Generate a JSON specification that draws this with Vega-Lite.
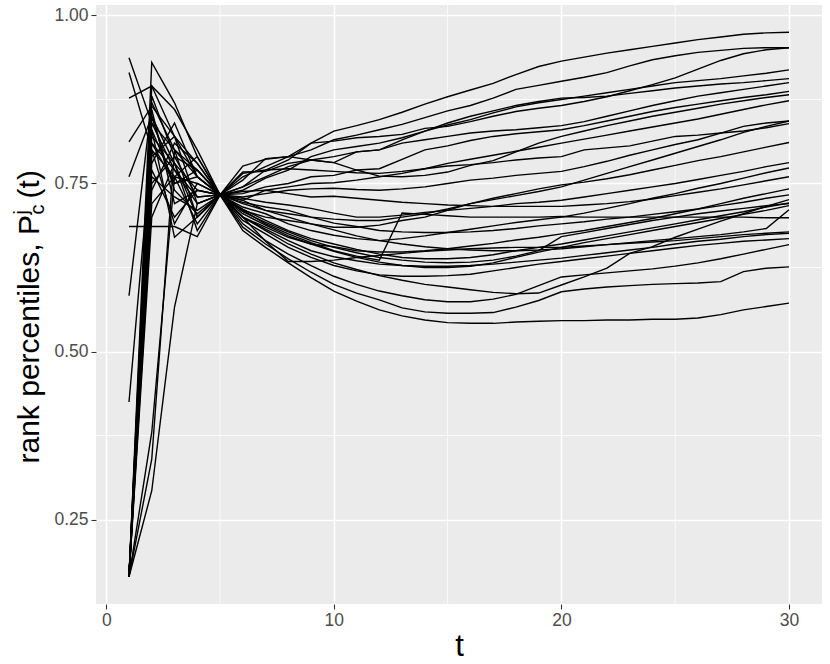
{
"$schema": "https://vega.github.io/schema/vega-lite/v6.json",
"width": 726, "height": 599,
"autosize": {"type": "none"},
"padding": {"left": 96, "top": 5, "right": 8, "bottom": 60},
"background": "white",
"config": {"view": {"fill": "#EBEBEB", "stroke": null}, "font": "Liberation Sans"},
"datasets": {
"minx": [{"gx": 5}, {"gx": 15}, {"gx": 25}],
"miny": [{"gy": 0.375}, {"gy": 0.625}, {"gy": 0.875}],
"pts": [
{"s":1,"t":1,"v":0.165},{"s":1,"t":2,"v":0.93},{"s":1,"t":3,"v":0.87},{"s":1,"t":4,"v":0.79},{"s":1,"t":5,"v":0.733},{"s":1,"t":6,"v":0.776},{"s":1,"t":7,"v":0.786},{"s":1,"t":8,"v":0.79},{"s":1,"t":9,"v":0.81},{"s":1,"t":10,"v":0.828},{"s":1,"t":11,"v":0.836},{"s":1,"t":12,"v":0.845},{"s":1,"t":13,"v":0.856},{"s":1,"t":14,"v":0.868},{"s":1,"t":15,"v":0.879},{"s":1,"t":16,"v":0.889},{"s":1,"t":17,"v":0.899},{"s":1,"t":18,"v":0.912},{"s":1,"t":19,"v":0.924},{"s":1,"t":20,"v":0.932},{"s":1,"t":21,"v":0.938},{"s":1,"t":22,"v":0.944},{"s":1,"t":23,"v":0.949},{"s":1,"t":24,"v":0.954},{"s":1,"t":25,"v":0.959},{"s":1,"t":26,"v":0.964},{"s":1,"t":27,"v":0.968},{"s":1,"t":28,"v":0.972},{"s":1,"t":29,"v":0.974},{"s":1,"t":30,"v":0.975},
{"s":2,"t":1,"v":0.165},{"s":2,"t":2,"v":0.895},{"s":2,"t":3,"v":0.86},{"s":2,"t":4,"v":0.80},{"s":2,"t":5,"v":0.733},{"s":2,"t":6,"v":0.76},{"s":2,"t":7,"v":0.775},{"s":2,"t":8,"v":0.79},{"s":2,"t":9,"v":0.80},{"s":2,"t":10,"v":0.815},{"s":2,"t":11,"v":0.822},{"s":2,"t":12,"v":0.83},{"s":2,"t":13,"v":0.838},{"s":2,"t":14,"v":0.848},{"s":2,"t":15,"v":0.858},{"s":2,"t":16,"v":0.866},{"s":2,"t":17,"v":0.877},{"s":2,"t":18,"v":0.89},{"s":2,"t":19,"v":0.896},{"s":2,"t":20,"v":0.902},{"s":2,"t":21,"v":0.908},{"s":2,"t":22,"v":0.915},{"s":2,"t":23,"v":0.925},{"s":2,"t":24,"v":0.934},{"s":2,"t":25,"v":0.94},{"s":2,"t":26,"v":0.945},{"s":2,"t":27,"v":0.948},{"s":2,"t":28,"v":0.951},{"s":2,"t":29,"v":0.952},{"s":2,"t":30,"v":0.952},
{"s":3,"t":1,"v":0.937},{"s":3,"t":2,"v":0.84},{"s":3,"t":3,"v":0.80},{"s":3,"t":4,"v":0.77},{"s":3,"t":5,"v":0.733},{"s":3,"t":6,"v":0.745},{"s":3,"t":7,"v":0.77},{"s":3,"t":8,"v":0.785},{"s":3,"t":9,"v":0.81},{"s":3,"t":10,"v":0.813},{"s":3,"t":11,"v":0.818},{"s":3,"t":12,"v":0.82},{"s":3,"t":13,"v":0.823},{"s":3,"t":14,"v":0.832},{"s":3,"t":15,"v":0.835},{"s":3,"t":16,"v":0.842},{"s":3,"t":17,"v":0.85},{"s":3,"t":18,"v":0.857},{"s":3,"t":19,"v":0.862},{"s":3,"t":20,"v":0.866},{"s":3,"t":21,"v":0.872},{"s":3,"t":22,"v":0.879},{"s":3,"t":23,"v":0.888},{"s":3,"t":24,"v":0.897},{"s":3,"t":25,"v":0.907},{"s":3,"t":26,"v":0.92},{"s":3,"t":27,"v":0.933},{"s":3,"t":28,"v":0.943},{"s":3,"t":29,"v":0.949},{"s":3,"t":30,"v":0.952},
{"s":4,"t":1,"v":0.915},{"s":4,"t":2,"v":0.80},{"s":4,"t":3,"v":0.76},{"s":4,"t":4,"v":0.75},{"s":4,"t":5,"v":0.733},{"s":4,"t":6,"v":0.74},{"s":4,"t":7,"v":0.758},{"s":4,"t":8,"v":0.77},{"s":4,"t":9,"v":0.79},{"s":4,"t":10,"v":0.80},{"s":4,"t":11,"v":0.805},{"s":4,"t":12,"v":0.81},{"s":4,"t":13,"v":0.818},{"s":4,"t":14,"v":0.828},{"s":4,"t":15,"v":0.837},{"s":4,"t":16,"v":0.845},{"s":4,"t":17,"v":0.855},{"s":4,"t":18,"v":0.864},{"s":4,"t":19,"v":0.87},{"s":4,"t":20,"v":0.875},{"s":4,"t":21,"v":0.88},{"s":4,"t":22,"v":0.885},{"s":4,"t":23,"v":0.89},{"s":4,"t":24,"v":0.895},{"s":4,"t":25,"v":0.90},{"s":4,"t":26,"v":0.903},{"s":4,"t":27,"v":0.906},{"s":4,"t":28,"v":0.91},{"s":4,"t":29,"v":0.914},{"s":4,"t":30,"v":0.919},
{"s":5,"t":1,"v":0.877},{"s":5,"t":2,"v":0.895},{"s":5,"t":3,"v":0.82},{"s":5,"t":4,"v":0.78},{"s":5,"t":5,"v":0.733},{"s":5,"t":6,"v":0.767},{"s":5,"t":7,"v":0.768},{"s":5,"t":8,"v":0.78},{"s":5,"t":9,"v":0.785},{"s":5,"t":10,"v":0.79},{"s":5,"t":11,"v":0.797},{"s":5,"t":12,"v":0.80},{"s":5,"t":13,"v":0.815},{"s":5,"t":14,"v":0.828},{"s":5,"t":15,"v":0.84},{"s":5,"t":16,"v":0.85},{"s":5,"t":17,"v":0.858},{"s":5,"t":18,"v":0.866},{"s":5,"t":19,"v":0.872},{"s":5,"t":20,"v":0.877},{"s":5,"t":21,"v":0.878},{"s":5,"t":22,"v":0.88},{"s":5,"t":23,"v":0.884},{"s":5,"t":24,"v":0.888},{"s":5,"t":25,"v":0.892},{"s":5,"t":26,"v":0.895},{"s":5,"t":27,"v":0.898},{"s":5,"t":28,"v":0.90},{"s":5,"t":29,"v":0.903},{"s":5,"t":30,"v":0.906},
{"s":6,"t":1,"v":0.812},{"s":6,"t":2,"v":0.865},{"s":6,"t":3,"v":0.82},{"s":6,"t":4,"v":0.76},{"s":6,"t":5,"v":0.733},{"s":6,"t":6,"v":0.745},{"s":6,"t":7,"v":0.76},{"s":6,"t":8,"v":0.775},{"s":6,"t":9,"v":0.785},{"s":6,"t":10,"v":0.781},{"s":6,"t":11,"v":0.797},{"s":6,"t":12,"v":0.80},{"s":6,"t":13,"v":0.81},{"s":6,"t":14,"v":0.815},{"s":6,"t":15,"v":0.82},{"s":6,"t":16,"v":0.825},{"s":6,"t":17,"v":0.828},{"s":6,"t":18,"v":0.83},{"s":6,"t":19,"v":0.833},{"s":6,"t":20,"v":0.836},{"s":6,"t":21,"v":0.842},{"s":6,"t":22,"v":0.85},{"s":6,"t":23,"v":0.858},{"s":6,"t":24,"v":0.866},{"s":6,"t":25,"v":0.873},{"s":6,"t":26,"v":0.88},{"s":6,"t":27,"v":0.885},{"s":6,"t":28,"v":0.89},{"s":6,"t":29,"v":0.895},{"s":6,"t":30,"v":0.90},
{"s":7,"t":1,"v":0.76},{"s":7,"t":2,"v":0.85},{"s":7,"t":3,"v":0.78},{"s":7,"t":4,"v":0.70},{"s":7,"t":5,"v":0.733},{"s":7,"t":6,"v":0.735},{"s":7,"t":7,"v":0.745},{"s":7,"t":8,"v":0.75},{"s":7,"t":9,"v":0.76},{"s":7,"t":10,"v":0.762},{"s":7,"t":11,"v":0.77},{"s":7,"t":12,"v":0.772},{"s":7,"t":13,"v":0.786},{"s":7,"t":14,"v":0.80},{"s":7,"t":15,"v":0.806},{"s":7,"t":16,"v":0.814},{"s":7,"t":17,"v":0.82},{"s":7,"t":18,"v":0.824},{"s":7,"t":19,"v":0.827},{"s":7,"t":20,"v":0.83},{"s":7,"t":21,"v":0.836},{"s":7,"t":22,"v":0.843},{"s":7,"t":23,"v":0.85},{"s":7,"t":24,"v":0.857},{"s":7,"t":25,"v":0.863},{"s":7,"t":26,"v":0.868},{"s":7,"t":27,"v":0.873},{"s":7,"t":28,"v":0.878},{"s":7,"t":29,"v":0.882},{"s":7,"t":30,"v":0.887},
{"s":8,"t":1,"v":0.686},{"s":8,"t":2,"v":0.686},{"s":8,"t":3,"v":0.686},{"s":8,"t":4,"v":0.671},{"s":8,"t":5,"v":0.733},{"s":8,"t":6,"v":0.755},{"s":8,"t":7,"v":0.787},{"s":8,"t":8,"v":0.79},{"s":8,"t":9,"v":0.785},{"s":8,"t":10,"v":0.781},{"s":8,"t":11,"v":0.77},{"s":8,"t":12,"v":0.761},{"s":8,"t":13,"v":0.76},{"s":8,"t":14,"v":0.762},{"s":8,"t":15,"v":0.767},{"s":8,"t":16,"v":0.777},{"s":8,"t":17,"v":0.784},{"s":8,"t":18,"v":0.797},{"s":8,"t":19,"v":0.81},{"s":8,"t":20,"v":0.82},{"s":8,"t":21,"v":0.828},{"s":8,"t":22,"v":0.836},{"s":8,"t":23,"v":0.843},{"s":8,"t":24,"v":0.85},{"s":8,"t":25,"v":0.856},{"s":8,"t":26,"v":0.862},{"s":8,"t":27,"v":0.868},{"s":8,"t":28,"v":0.873},{"s":8,"t":29,"v":0.878},{"s":8,"t":30,"v":0.882},
{"s":9,"t":1,"v":0.583},{"s":9,"t":2,"v":0.87},{"s":9,"t":3,"v":0.80},{"s":9,"t":4,"v":0.76},{"s":9,"t":5,"v":0.733},{"s":9,"t":6,"v":0.725},{"s":9,"t":7,"v":0.74},{"s":9,"t":8,"v":0.745},{"s":9,"t":9,"v":0.75},{"s":9,"t":10,"v":0.751},{"s":9,"t":11,"v":0.755},{"s":9,"t":12,"v":0.76},{"s":9,"t":13,"v":0.765},{"s":9,"t":14,"v":0.772},{"s":9,"t":15,"v":0.78},{"s":9,"t":16,"v":0.786},{"s":9,"t":17,"v":0.792},{"s":9,"t":18,"v":0.798},{"s":9,"t":19,"v":0.804},{"s":9,"t":20,"v":0.81},{"s":9,"t":21,"v":0.816},{"s":9,"t":22,"v":0.822},{"s":9,"t":23,"v":0.828},{"s":9,"t":24,"v":0.834},{"s":9,"t":25,"v":0.84},{"s":9,"t":26,"v":0.846},{"s":9,"t":27,"v":0.853},{"s":9,"t":28,"v":0.86},{"s":9,"t":29,"v":0.867},{"s":9,"t":30,"v":0.873},
{"s":10,"t":1,"v":0.425},{"s":10,"t":2,"v":0.81},{"s":10,"t":3,"v":0.77},{"s":10,"t":4,"v":0.72},{"s":10,"t":5,"v":0.733},{"s":10,"t":6,"v":0.73},{"s":10,"t":7,"v":0.735},{"s":10,"t":8,"v":0.74},{"s":10,"t":9,"v":0.742},{"s":10,"t":10,"v":0.743},{"s":10,"t":11,"v":0.741},{"s":10,"t":12,"v":0.74},{"s":10,"t":13,"v":0.742},{"s":10,"t":14,"v":0.745},{"s":10,"t":15,"v":0.75},{"s":10,"t":16,"v":0.755},{"s":10,"t":17,"v":0.758},{"s":10,"t":18,"v":0.762},{"s":10,"t":19,"v":0.765},{"s":10,"t":20,"v":0.768},{"s":10,"t":21,"v":0.775},{"s":10,"t":22,"v":0.783},{"s":10,"t":23,"v":0.792},{"s":10,"t":24,"v":0.80},{"s":10,"t":25,"v":0.808},{"s":10,"t":26,"v":0.815},{"s":10,"t":27,"v":0.825},{"s":10,"t":28,"v":0.835},{"s":10,"t":29,"v":0.84},{"s":10,"t":30,"v":0.843},
{"s":11,"t":1,"v":0.165},{"s":11,"t":2,"v":0.293},{"s":11,"t":3,"v":0.566},{"s":11,"t":4,"v":0.72},{"s":11,"t":5,"v":0.733},{"s":11,"t":6,"v":0.72},{"s":11,"t":7,"v":0.71},{"s":11,"t":8,"v":0.705},{"s":11,"t":9,"v":0.70},{"s":11,"t":10,"v":0.697},{"s":11,"t":11,"v":0.695},{"s":11,"t":12,"v":0.695},{"s":11,"t":13,"v":0.70},{"s":11,"t":14,"v":0.705},{"s":11,"t":15,"v":0.712},{"s":11,"t":16,"v":0.72},{"s":11,"t":17,"v":0.726},{"s":11,"t":18,"v":0.732},{"s":11,"t":19,"v":0.738},{"s":11,"t":20,"v":0.745},{"s":11,"t":21,"v":0.755},{"s":11,"t":22,"v":0.765},{"s":11,"t":23,"v":0.775},{"s":11,"t":24,"v":0.785},{"s":11,"t":25,"v":0.795},{"s":11,"t":26,"v":0.805},{"s":11,"t":27,"v":0.815},{"s":11,"t":28,"v":0.826},{"s":11,"t":29,"v":0.835},{"s":11,"t":30,"v":0.843},
{"s":12,"t":1,"v":0.165},{"s":12,"t":2,"v":0.38},{"s":12,"t":3,"v":0.76},{"s":12,"t":4,"v":0.79},{"s":12,"t":5,"v":0.733},{"s":12,"t":6,"v":0.765},{"s":12,"t":7,"v":0.77},{"s":12,"t":8,"v":0.772},{"s":12,"t":9,"v":0.77},{"s":12,"t":10,"v":0.768},{"s":12,"t":11,"v":0.766},{"s":12,"t":12,"v":0.765},{"s":12,"t":13,"v":0.768},{"s":12,"t":14,"v":0.772},{"s":12,"t":15,"v":0.776},{"s":12,"t":16,"v":0.778},{"s":12,"t":17,"v":0.781},{"s":12,"t":18,"v":0.785},{"s":12,"t":19,"v":0.788},{"s":12,"t":20,"v":0.79},{"s":12,"t":21,"v":0.80},{"s":12,"t":22,"v":0.803},{"s":12,"t":23,"v":0.806},{"s":12,"t":24,"v":0.813},{"s":12,"t":25,"v":0.82},{"s":12,"t":26,"v":0.822},{"s":12,"t":27,"v":0.825},{"s":12,"t":28,"v":0.828},{"s":12,"t":29,"v":0.833},{"s":12,"t":30,"v":0.839},
{"s":13,"t":1,"v":0.165},{"s":13,"t":2,"v":0.34},{"s":13,"t":3,"v":0.80},{"s":13,"t":4,"v":0.70},{"s":13,"t":5,"v":0.733},{"s":13,"t":6,"v":0.71},{"s":13,"t":7,"v":0.70},{"s":13,"t":8,"v":0.695},{"s":13,"t":9,"v":0.69},{"s":13,"t":10,"v":0.685},{"s":13,"t":11,"v":0.685},{"s":13,"t":12,"v":0.688},{"s":13,"t":13,"v":0.695},{"s":13,"t":14,"v":0.70},{"s":13,"t":15,"v":0.71},{"s":13,"t":16,"v":0.72},{"s":13,"t":17,"v":0.728},{"s":13,"t":18,"v":0.735},{"s":13,"t":19,"v":0.742},{"s":13,"t":20,"v":0.748},{"s":13,"t":21,"v":0.752},{"s":13,"t":22,"v":0.757},{"s":13,"t":23,"v":0.763},{"s":13,"t":24,"v":0.77},{"s":13,"t":25,"v":0.777},{"s":13,"t":26,"v":0.784},{"s":13,"t":27,"v":0.79},{"s":13,"t":28,"v":0.797},{"s":13,"t":29,"v":0.804},{"s":13,"t":30,"v":0.811},
{"s":14,"t":1,"v":0.165},{"s":14,"t":2,"v":0.83},{"s":14,"t":3,"v":0.75},{"s":14,"t":4,"v":0.77},{"s":14,"t":5,"v":0.733},{"s":14,"t":6,"v":0.728},{"s":14,"t":7,"v":0.722},{"s":14,"t":8,"v":0.718},{"s":14,"t":9,"v":0.713},{"s":14,"t":10,"v":0.706},{"s":14,"t":11,"v":0.70},{"s":14,"t":12,"v":0.70},{"s":14,"t":13,"v":0.703},{"s":14,"t":14,"v":0.707},{"s":14,"t":15,"v":0.71},{"s":14,"t":16,"v":0.713},{"s":14,"t":17,"v":0.716},{"s":14,"t":18,"v":0.72},{"s":14,"t":19,"v":0.722},{"s":14,"t":20,"v":0.725},{"s":14,"t":21,"v":0.73},{"s":14,"t":22,"v":0.735},{"s":14,"t":23,"v":0.74},{"s":14,"t":24,"v":0.745},{"s":14,"t":25,"v":0.75},{"s":14,"t":26,"v":0.756},{"s":14,"t":27,"v":0.762},{"s":14,"t":28,"v":0.768},{"s":14,"t":29,"v":0.775},{"s":14,"t":30,"v":0.781},
{"s":15,"t":1,"v":0.165},{"s":15,"t":2,"v":0.82},{"s":15,"t":3,"v":0.78},{"s":15,"t":4,"v":0.68},{"s":15,"t":5,"v":0.733},{"s":15,"t":6,"v":0.715},{"s":15,"t":7,"v":0.705},{"s":15,"t":8,"v":0.69},{"s":15,"t":9,"v":0.68},{"s":15,"t":10,"v":0.673},{"s":15,"t":11,"v":0.668},{"s":15,"t":12,"v":0.665},{"s":15,"t":13,"v":0.668},{"s":15,"t":14,"v":0.672},{"s":15,"t":15,"v":0.677},{"s":15,"t":16,"v":0.682},{"s":15,"t":17,"v":0.687},{"s":15,"t":18,"v":0.692},{"s":15,"t":19,"v":0.696},{"s":15,"t":20,"v":0.70},{"s":15,"t":21,"v":0.706},{"s":15,"t":22,"v":0.713},{"s":15,"t":23,"v":0.72},{"s":15,"t":24,"v":0.728},{"s":15,"t":25,"v":0.735},{"s":15,"t":26,"v":0.743},{"s":15,"t":27,"v":0.75},{"s":15,"t":28,"v":0.758},{"s":15,"t":29,"v":0.766},{"s":15,"t":30,"v":0.773},
{"s":16,"t":1,"v":0.165},{"s":16,"t":2,"v":0.86},{"s":16,"t":3,"v":0.72},{"s":16,"t":4,"v":0.74},{"s":16,"t":5,"v":0.733},{"s":16,"t":6,"v":0.738},{"s":16,"t":7,"v":0.74},{"s":16,"t":8,"v":0.735},{"s":16,"t":9,"v":0.73},{"s":16,"t":10,"v":0.731},{"s":16,"t":11,"v":0.728},{"s":16,"t":12,"v":0.725},{"s":16,"t":13,"v":0.722},{"s":16,"t":14,"v":0.72},{"s":16,"t":15,"v":0.718},{"s":16,"t":16,"v":0.717},{"s":16,"t":17,"v":0.716},{"s":16,"t":18,"v":0.716},{"s":16,"t":19,"v":0.716},{"s":16,"t":20,"v":0.716},{"s":16,"t":21,"v":0.718},{"s":16,"t":22,"v":0.72},{"s":16,"t":23,"v":0.723},{"s":16,"t":24,"v":0.727},{"s":16,"t":25,"v":0.732},{"s":16,"t":26,"v":0.737},{"s":16,"t":27,"v":0.742},{"s":16,"t":28,"v":0.748},{"s":16,"t":29,"v":0.754},{"s":16,"t":30,"v":0.76},
{"s":17,"t":1,"v":0.165},{"s":17,"t":2,"v":0.78},{"s":17,"t":3,"v":0.84},{"s":17,"t":4,"v":0.76},{"s":17,"t":5,"v":0.733},{"s":17,"t":6,"v":0.70},{"s":17,"t":7,"v":0.685},{"s":17,"t":8,"v":0.67},{"s":17,"t":9,"v":0.66},{"s":17,"t":10,"v":0.656},{"s":17,"t":11,"v":0.65},{"s":17,"t":12,"v":0.648},{"s":17,"t":13,"v":0.648},{"s":17,"t":14,"v":0.65},{"s":17,"t":15,"v":0.653},{"s":17,"t":16,"v":0.657},{"s":17,"t":17,"v":0.661},{"s":17,"t":18,"v":0.666},{"s":17,"t":19,"v":0.67},{"s":17,"t":20,"v":0.675},{"s":17,"t":21,"v":0.68},{"s":17,"t":22,"v":0.686},{"s":17,"t":23,"v":0.692},{"s":17,"t":24,"v":0.698},{"s":17,"t":25,"v":0.705},{"s":17,"t":26,"v":0.712},{"s":17,"t":27,"v":0.72},{"s":17,"t":28,"v":0.728},{"s":17,"t":29,"v":0.735},{"s":17,"t":30,"v":0.742},
{"s":18,"t":1,"v":0.165},{"s":18,"t":2,"v":0.76},{"s":18,"t":3,"v":0.73},{"s":18,"t":4,"v":0.71},{"s":18,"t":5,"v":0.733},{"s":18,"t":6,"v":0.722},{"s":18,"t":7,"v":0.715},{"s":18,"t":8,"v":0.71},{"s":18,"t":9,"v":0.70},{"s":18,"t":10,"v":0.691},{"s":18,"t":11,"v":0.686},{"s":18,"t":12,"v":0.68},{"s":18,"t":13,"v":0.678},{"s":18,"t":14,"v":0.677},{"s":18,"t":15,"v":0.677},{"s":18,"t":16,"v":0.678},{"s":18,"t":17,"v":0.68},{"s":18,"t":18,"v":0.683},{"s":18,"t":19,"v":0.687},{"s":18,"t":20,"v":0.69},{"s":18,"t":21,"v":0.693},{"s":18,"t":22,"v":0.697},{"s":18,"t":23,"v":0.70},{"s":18,"t":24,"v":0.704},{"s":18,"t":25,"v":0.708},{"s":18,"t":26,"v":0.712},{"s":18,"t":27,"v":0.717},{"s":18,"t":28,"v":0.722},{"s":18,"t":29,"v":0.728},{"s":18,"t":30,"v":0.733},
{"s":19,"t":1,"v":0.165},{"s":19,"t":2,"v":0.74},{"s":19,"t":3,"v":0.81},{"s":19,"t":4,"v":0.78},{"s":19,"t":5,"v":0.733},{"s":19,"t":6,"v":0.70},{"s":19,"t":7,"v":0.68},{"s":19,"t":8,"v":0.66},{"s":19,"t":9,"v":0.645},{"s":19,"t":10,"v":0.632},{"s":19,"t":11,"v":0.622},{"s":19,"t":12,"v":0.613},{"s":19,"t":13,"v":0.606},{"s":19,"t":14,"v":0.60},{"s":19,"t":15,"v":0.596},{"s":19,"t":16,"v":0.592},{"s":19,"t":17,"v":0.588},{"s":19,"t":18,"v":0.586},{"s":19,"t":19,"v":0.587},{"s":19,"t":20,"v":0.599},{"s":19,"t":21,"v":0.611},{"s":19,"t":22,"v":0.624},{"s":19,"t":23,"v":0.646},{"s":19,"t":24,"v":0.656},{"s":19,"t":25,"v":0.67},{"s":19,"t":26,"v":0.682},{"s":19,"t":27,"v":0.694},{"s":19,"t":28,"v":0.705},{"s":19,"t":29,"v":0.716},{"s":19,"t":30,"v":0.726},
{"s":20,"t":1,"v":0.165},{"s":20,"t":2,"v":0.88},{"s":20,"t":3,"v":0.79},{"s":20,"t":4,"v":0.73},{"s":20,"t":5,"v":0.733},{"s":20,"t":6,"v":0.712},{"s":20,"t":7,"v":0.695},{"s":20,"t":8,"v":0.68},{"s":20,"t":9,"v":0.668},{"s":20,"t":10,"v":0.66},{"s":20,"t":11,"v":0.652},{"s":20,"t":12,"v":0.645},{"s":20,"t":13,"v":0.64},{"s":20,"t":14,"v":0.638},{"s":20,"t":15,"v":0.638},{"s":20,"t":16,"v":0.64},{"s":20,"t":17,"v":0.644},{"s":20,"t":18,"v":0.65},{"s":20,"t":19,"v":0.655},{"s":20,"t":20,"v":0.66},{"s":20,"t":21,"v":0.666},{"s":20,"t":22,"v":0.672},{"s":20,"t":23,"v":0.678},{"s":20,"t":24,"v":0.684},{"s":20,"t":25,"v":0.69},{"s":20,"t":26,"v":0.696},{"s":20,"t":27,"v":0.702},{"s":20,"t":28,"v":0.708},{"s":20,"t":29,"v":0.715},{"s":20,"t":30,"v":0.721},
{"s":21,"t":1,"v":0.165},{"s":21,"t":2,"v":0.72},{"s":21,"t":3,"v":0.76},{"s":21,"t":4,"v":0.69},{"s":21,"t":5,"v":0.733},{"s":21,"t":6,"v":0.71},{"s":21,"t":7,"v":0.69},{"s":21,"t":8,"v":0.675},{"s":21,"t":9,"v":0.662},{"s":21,"t":10,"v":0.65},{"s":21,"t":11,"v":0.642},{"s":21,"t":12,"v":0.636},{"s":21,"t":13,"v":0.706},{"s":21,"t":14,"v":0.704},{"s":21,"t":15,"v":0.702},{"s":21,"t":16,"v":0.70},{"s":21,"t":17,"v":0.70},{"s":21,"t":18,"v":0.70},{"s":21,"t":19,"v":0.70},{"s":21,"t":20,"v":0.701},{"s":21,"t":21,"v":0.70},{"s":21,"t":22,"v":0.70},{"s":21,"t":23,"v":0.70},{"s":21,"t":24,"v":0.70},{"s":21,"t":25,"v":0.70},{"s":21,"t":26,"v":0.70},{"s":21,"t":27,"v":0.70},{"s":21,"t":28,"v":0.70},{"s":21,"t":29,"v":0.699},{"s":21,"t":30,"v":0.699},
{"s":22,"t":1,"v":0.165},{"s":22,"t":2,"v":0.84},{"s":22,"t":3,"v":0.77},{"s":22,"t":4,"v":0.73},{"s":22,"t":5,"v":0.733},{"s":22,"t":6,"v":0.705},{"s":22,"t":7,"v":0.688},{"s":22,"t":8,"v":0.672},{"s":22,"t":9,"v":0.66},{"s":22,"t":10,"v":0.649},{"s":22,"t":11,"v":0.64},{"s":22,"t":12,"v":0.633},{"s":22,"t":13,"v":0.628},{"s":22,"t":14,"v":0.625},{"s":22,"t":15,"v":0.625},{"s":22,"t":16,"v":0.627},{"s":22,"t":17,"v":0.632},{"s":22,"t":18,"v":0.64},{"s":22,"t":19,"v":0.648},{"s":22,"t":20,"v":0.655},{"s":22,"t":21,"v":0.662},{"s":22,"t":22,"v":0.668},{"s":22,"t":23,"v":0.674},{"s":22,"t":24,"v":0.68},{"s":22,"t":25,"v":0.686},{"s":22,"t":26,"v":0.692},{"s":22,"t":27,"v":0.698},{"s":22,"t":28,"v":0.704},{"s":22,"t":29,"v":0.71},{"s":22,"t":30,"v":0.717},
{"s":23,"t":1,"v":0.165},{"s":23,"t":2,"v":0.80},{"s":23,"t":3,"v":0.69},{"s":23,"t":4,"v":0.75},{"s":23,"t":5,"v":0.733},{"s":23,"t":6,"v":0.725},{"s":23,"t":7,"v":0.71},{"s":23,"t":8,"v":0.70},{"s":23,"t":9,"v":0.69},{"s":23,"t":10,"v":0.681},{"s":23,"t":11,"v":0.672},{"s":23,"t":12,"v":0.665},{"s":23,"t":13,"v":0.66},{"s":23,"t":14,"v":0.656},{"s":23,"t":15,"v":0.653},{"s":23,"t":16,"v":0.651},{"s":23,"t":17,"v":0.65},{"s":23,"t":18,"v":0.65},{"s":23,"t":19,"v":0.651},{"s":23,"t":20,"v":0.653},{"s":23,"t":21,"v":0.656},{"s":23,"t":22,"v":0.659},{"s":23,"t":23,"v":0.662},{"s":23,"t":24,"v":0.665},{"s":23,"t":25,"v":0.668},{"s":23,"t":26,"v":0.671},{"s":23,"t":27,"v":0.674},{"s":23,"t":28,"v":0.678},{"s":23,"t":29,"v":0.683},{"s":23,"t":30,"v":0.711},
{"s":24,"t":1,"v":0.165},{"s":24,"t":2,"v":0.79},{"s":24,"t":3,"v":0.82},{"s":24,"t":4,"v":0.72},{"s":24,"t":5,"v":0.733},{"s":24,"t":6,"v":0.70},{"s":24,"t":7,"v":0.664},{"s":24,"t":8,"v":0.634},{"s":24,"t":9,"v":0.634},{"s":24,"t":10,"v":0.636},{"s":24,"t":11,"v":0.64},{"s":24,"t":12,"v":0.643},{"s":24,"t":13,"v":0.646},{"s":24,"t":14,"v":0.649},{"s":24,"t":15,"v":0.651},{"s":24,"t":16,"v":0.653},{"s":24,"t":17,"v":0.654},{"s":24,"t":18,"v":0.655},{"s":24,"t":19,"v":0.655},{"s":24,"t":20,"v":0.655},{"s":24,"t":21,"v":0.657},{"s":24,"t":22,"v":0.659},{"s":24,"t":23,"v":0.661},{"s":24,"t":24,"v":0.663},{"s":24,"t":25,"v":0.665},{"s":24,"t":26,"v":0.668},{"s":24,"t":27,"v":0.671},{"s":24,"t":28,"v":0.674},{"s":24,"t":29,"v":0.676},{"s":24,"t":30,"v":0.678},
{"s":25,"t":1,"v":0.165},{"s":25,"t":2,"v":0.77},{"s":25,"t":3,"v":0.70},{"s":25,"t":4,"v":0.74},{"s":25,"t":5,"v":0.733},{"s":25,"t":6,"v":0.70},{"s":25,"t":7,"v":0.682},{"s":25,"t":8,"v":0.665},{"s":25,"t":9,"v":0.65},{"s":25,"t":10,"v":0.641},{"s":25,"t":11,"v":0.635},{"s":25,"t":12,"v":0.63},{"s":25,"t":13,"v":0.628},{"s":25,"t":14,"v":0.627},{"s":25,"t":15,"v":0.627},{"s":25,"t":16,"v":0.628},{"s":25,"t":17,"v":0.63},{"s":25,"t":18,"v":0.633},{"s":25,"t":19,"v":0.636},{"s":25,"t":20,"v":0.639},{"s":25,"t":21,"v":0.643},{"s":25,"t":22,"v":0.647},{"s":25,"t":23,"v":0.651},{"s":25,"t":24,"v":0.655},{"s":25,"t":25,"v":0.66},{"s":25,"t":26,"v":0.664},{"s":25,"t":27,"v":0.667},{"s":25,"t":28,"v":0.671},{"s":25,"t":29,"v":0.674},{"s":25,"t":30,"v":0.676},
{"s":26,"t":1,"v":0.165},{"s":26,"t":2,"v":0.85},{"s":26,"t":3,"v":0.74},{"s":26,"t":4,"v":0.705},{"s":26,"t":5,"v":0.733},{"s":26,"t":6,"v":0.695},{"s":26,"t":7,"v":0.675},{"s":26,"t":8,"v":0.655},{"s":26,"t":9,"v":0.64},{"s":26,"t":10,"v":0.628},{"s":26,"t":11,"v":0.62},{"s":26,"t":12,"v":0.614},{"s":26,"t":13,"v":0.612},{"s":26,"t":14,"v":0.612},{"s":26,"t":15,"v":0.613},{"s":26,"t":16,"v":0.615},{"s":26,"t":17,"v":0.62},{"s":26,"t":18,"v":0.625},{"s":26,"t":19,"v":0.63},{"s":26,"t":20,"v":0.634},{"s":26,"t":21,"v":0.638},{"s":26,"t":22,"v":0.642},{"s":26,"t":23,"v":0.646},{"s":26,"t":24,"v":0.65},{"s":26,"t":25,"v":0.654},{"s":26,"t":26,"v":0.658},{"s":26,"t":27,"v":0.661},{"s":26,"t":28,"v":0.664},{"s":26,"t":29,"v":0.666},{"s":26,"t":30,"v":0.668},
{"s":27,"t":1,"v":0.165},{"s":27,"t":2,"v":0.75},{"s":27,"t":3,"v":0.79},{"s":27,"t":4,"v":0.77},{"s":27,"t":5,"v":0.733},{"s":27,"t":6,"v":0.69},{"s":27,"t":7,"v":0.665},{"s":27,"t":8,"v":0.645},{"s":27,"t":9,"v":0.628},{"s":27,"t":10,"v":0.612},{"s":27,"t":11,"v":0.60},{"s":27,"t":12,"v":0.59},{"s":27,"t":13,"v":0.583},{"s":27,"t":14,"v":0.577},{"s":27,"t":15,"v":0.574},{"s":27,"t":16,"v":0.574},{"s":27,"t":17,"v":0.578},{"s":27,"t":18,"v":0.585},{"s":27,"t":19,"v":0.598},{"s":27,"t":20,"v":0.611},{"s":27,"t":21,"v":0.614},{"s":27,"t":22,"v":0.617},{"s":27,"t":23,"v":0.62},{"s":27,"t":24,"v":0.623},{"s":27,"t":25,"v":0.627},{"s":27,"t":26,"v":0.632},{"s":27,"t":27,"v":0.638},{"s":27,"t":28,"v":0.645},{"s":27,"t":29,"v":0.652},{"s":27,"t":30,"v":0.659},
{"s":28,"t":1,"v":0.165},{"s":28,"t":2,"v":0.83},{"s":28,"t":3,"v":0.67},{"s":28,"t":4,"v":0.70},{"s":28,"t":5,"v":0.733},{"s":28,"t":6,"v":0.685},{"s":28,"t":7,"v":0.66},{"s":28,"t":8,"v":0.638},{"s":28,"t":9,"v":0.618},{"s":28,"t":10,"v":0.60},{"s":28,"t":11,"v":0.587},{"s":28,"t":12,"v":0.577},{"s":28,"t":13,"v":0.565},{"s":28,"t":14,"v":0.559},{"s":28,"t":15,"v":0.557},{"s":28,"t":16,"v":0.557},{"s":28,"t":17,"v":0.558},{"s":28,"t":18,"v":0.566},{"s":28,"t":19,"v":0.576},{"s":28,"t":20,"v":0.589},{"s":28,"t":21,"v":0.593},{"s":28,"t":22,"v":0.596},{"s":28,"t":23,"v":0.598},{"s":28,"t":24,"v":0.60},{"s":28,"t":25,"v":0.601},{"s":28,"t":26,"v":0.602},{"s":28,"t":27,"v":0.604},{"s":28,"t":28,"v":0.619},{"s":28,"t":29,"v":0.624},{"s":28,"t":30,"v":0.626},
{"s":29,"t":1,"v":0.165},{"s":29,"t":2,"v":0.81},{"s":29,"t":3,"v":0.75},{"s":29,"t":4,"v":0.76},{"s":29,"t":5,"v":0.733},{"s":29,"t":6,"v":0.68},{"s":29,"t":7,"v":0.655},{"s":29,"t":8,"v":0.632},{"s":29,"t":9,"v":0.61},{"s":29,"t":10,"v":0.59},{"s":29,"t":11,"v":0.575},{"s":29,"t":12,"v":0.562},{"s":29,"t":13,"v":0.553},{"s":29,"t":14,"v":0.547},{"s":29,"t":15,"v":0.543},{"s":29,"t":16,"v":0.542},{"s":29,"t":17,"v":0.542},{"s":29,"t":18,"v":0.544},{"s":29,"t":19,"v":0.545},{"s":29,"t":20,"v":0.546},{"s":29,"t":21,"v":0.546},{"s":29,"t":22,"v":0.547},{"s":29,"t":23,"v":0.547},{"s":29,"t":24,"v":0.548},{"s":29,"t":25,"v":0.548},{"s":29,"t":26,"v":0.55},{"s":29,"t":27,"v":0.555},{"s":29,"t":28,"v":0.562},{"s":29,"t":29,"v":0.567},{"s":29,"t":30,"v":0.572},
{"s":30,"t":1,"v":0.165},{"s":30,"t":2,"v":0.70},{"s":30,"t":3,"v":0.78},{"s":30,"t":4,"v":0.74},{"s":30,"t":5,"v":0.733},{"s":30,"t":6,"v":0.708},{"s":30,"t":7,"v":0.692},{"s":30,"t":8,"v":0.678},{"s":30,"t":9,"v":0.665},{"s":30,"t":10,"v":0.655},{"s":30,"t":11,"v":0.647},{"s":30,"t":12,"v":0.64},{"s":30,"t":13,"v":0.636},{"s":30,"t":14,"v":0.633},{"s":30,"t":15,"v":0.632},{"s":30,"t":16,"v":0.633},{"s":30,"t":17,"v":0.636},{"s":30,"t":18,"v":0.642},{"s":30,"t":19,"v":0.65},{"s":30,"t":20,"v":0.671},{"s":30,"t":21,"v":0.677},{"s":30,"t":22,"v":0.683},{"s":30,"t":23,"v":0.689},{"s":30,"t":24,"v":0.695},{"s":30,"t":25,"v":0.70},{"s":30,"t":26,"v":0.705},{"s":30,"t":27,"v":0.709},{"s":30,"t":28,"v":0.713},{"s":30,"t":29,"v":0.717},{"s":30,"t":30,"v":0.72}
]
},
"layer": [
{
"data": {"name": "minx"},
"mark": {"type": "rule", "color": "white", "strokeWidth": 0.8},
"encoding": {
"x": {"field": "gx", "type": "quantitative",
"scale": {"domain": [-0.45, 31.45], "nice": false, "zero": false},
"axis": {"orient": "bottom", "labels": false, "ticks": false, "domain": false, "grid": false,
"title": "c", "titleFontSize": 20, "titleFontWeight": "normal", "titleColor": "black", "titleFont": "Liberation Sans",
"titleAngle": 270, "titleAlign": "left", "titleBaseline": "alphabetic", "titleX": -53, "titleY": -390}}
}
},
{
"data": {"name": "miny"},
"mark": {"type": "rule", "color": "white", "strokeWidth": 0.8},
"encoding": {
"y": {"field": "gy", "type": "quantitative",
"scale": {"domain": [0.1245, 1.0155], "nice": false, "zero": false},
"axis": {"orient": "left", "labels": false, "ticks": false, "domain": false, "grid": false,
"title": "j", "titleFontSize": 20, "titleFontWeight": "normal", "titleColor": "black", "titleFont": "Liberation Sans",
"titleAngle": 270, "titleAlign": "left", "titleBaseline": "alphabetic", "titleX": -69, "titleY": 209}}
}
},
{
"data": {"name": "pts"},
"mark": {"type": "line", "color": "black", "strokeWidth": 1.4},
"encoding": {
"x": {"field": "t", "type": "quantitative",
"scale": {"domain": [-0.45, 31.45], "nice": false, "zero": false},
"axis": {"orient": "bottom", "values": [0, 10, 20, 30], "format": "d", "grid": true, "gridColor": "white", "gridWidth": 1.6,
"domain": false, "tickColor": "#333333", "tickSize": 5, "tickWidth": 1.1, "labelPadding": 2,
"labelFont": "Liberation Sans", "labelFontSize": 17.5, "labelColor": "#4D4D4D",
"title": "t", "titleFontSize": 31, "titleFontWeight": "normal", "titleColor": "black", "titleFont": "Liberation Sans",
"titleBaseline": "alphabetic", "titleY": 51}},
"y": {"field": "v", "type": "quantitative",
"scale": {"domain": [0.1245, 1.0155], "nice": false, "zero": false},
"axis": {"orient": "left", "values": [0.25, 0.5, 0.75, 1.0], "format": ".2f", "grid": true, "gridColor": "white", "gridWidth": 1.6,
"domain": false, "tickColor": "#333333", "tickSize": 5, "tickWidth": 1.1, "labelPadding": 3,
"labelFont": "Liberation Sans", "labelFontSize": 17.5, "labelColor": "#4D4D4D",
"title": "rank percentiles, P\u00a0\u00a0(t)", "titleFontSize": 30, "titleFontWeight": "normal", "titleColor": "black", "titleFont": "Liberation Sans",
"titleAngle": 270, "titleAlign": "left", "titleBaseline": "alphabetic", "titleX": -58, "titleY": 458}},
"detail": {"field": "s", "type": "nominal"}
}
}
],
"resolve": {"axis": {"x": "independent", "y": "independent"}}
}
